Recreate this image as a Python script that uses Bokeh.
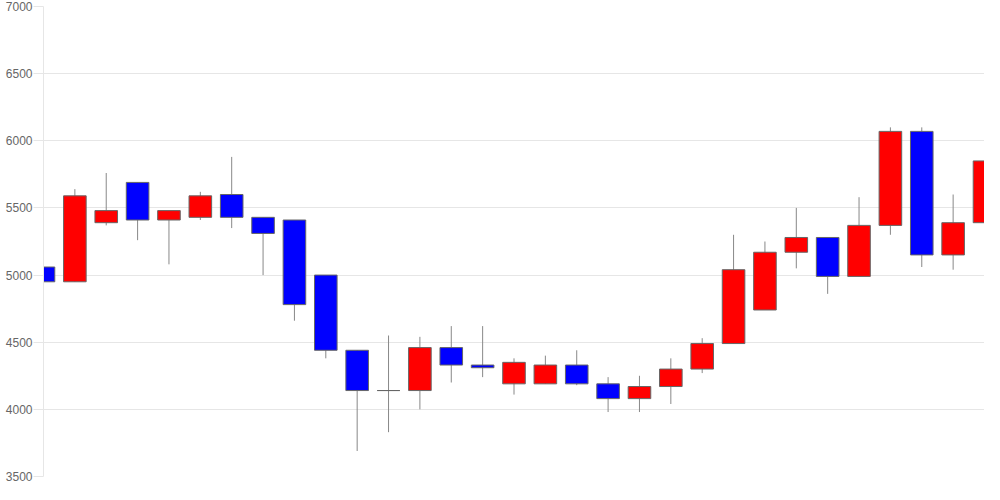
from bokeh.plotting import figure
from bokeh.models import ColumnDataSource, FixedTicker, Range1d
from bokeh.embed import file_html
from bokeh.resources import INLINE

# --- data ---
idx = list(range(31))
opens  = [5060, 4950, 5390, 5690, 5410, 5430, 5600, 5430, 5410, 5000, 4440, 4140, 4140, 4460, 4330, 4190,
          4190, 4330, 4190, 4080, 4170, 4300, 4490, 4740, 5170, 5280, 4990, 5370, 6070, 5150, 5390]
highs  = [5200, 5640, 5760, 5690, 5480, 5620, 5880, 5430, 5410, 5000, 4440, 4550, 4540, 4620, 4620, 4380,
          4400, 4440, 4240, 4250, 4380, 4530, 5300, 5250, 5500, 5280, 5580, 6100, 6100, 5600, 6460]
lows   = [4810, 4950, 5370, 5260, 5080, 5410, 5350, 5000, 4660, 4380, 3690, 3830, 4000, 4200, 4240, 4110,
          4190, 4180, 3980, 3980, 4040, 4270, 4490, 4740, 5050, 4860, 4990, 5300, 5060, 5040, 5390]
closes = [4950, 5590, 5480, 5410, 5480, 5590, 5430, 5310, 4780, 4440, 4140, 4140, 4460, 4330, 4310, 4350,
          4330, 4190, 4080, 4170, 4300, 4490, 5040, 5170, 5280, 4990, 5370, 6070, 5150, 5390, 5850]
y_ticks = [3500, 4000, 4500, 5000, 5500, 6000, 6500, 7000]

UP, DOWN = "#ff0000", "#0000ff"
colors = [UP if c > o else DOWN for o, c in zip(opens, closes)]
tops = [max(o, c) for o, c in zip(opens, closes)]
bots = [min(o, c) for o, c in zip(opens, closes)]

src = ColumnDataSource(dict(x=idx, o=opens, h=highs, l=lows, c=closes,
                            top=tops, bottom=bots, color=colors))

p = figure(width=984, height=484, output_backend="svg", toolbar_location=None,
           x_range=Range1d(0, 30), y_range=Range1d(3500, 7000),
           min_border_left=43, min_border_right=0, min_border_top=6, min_border_bottom=8)

p.segment(x0="x", y0="h", x1="x", y1="l", source=src, line_color="#888888", line_width=1)
p.vbar(x="x", width=0.72, top="top", bottom="bottom", source=src,
       fill_color="color", line_color="#666666", line_width=1)

p.xaxis.visible = False
p.xgrid.grid_line_color = None
p.ygrid.grid_line_color = "#e6e6e6"
p.ygrid.grid_line_width = 1
p.outline_line_color = None

ya = p.yaxis[0]
ya.ticker = FixedTicker(ticks=y_ticks)
ya.axis_line_color = "#e6e6e6"
ya.major_tick_line_color = "#e6e6e6"
ya.major_tick_out = 10
ya.major_tick_in = 0
ya.minor_tick_line_color = None
ya.major_label_standoff = 1
ya.major_label_text_font = "Liberation Sans"
ya.major_label_text_font_size = "12px"
ya.major_label_text_color = "#666666"

open("out.html", "w").write(file_html(p, INLINE))
